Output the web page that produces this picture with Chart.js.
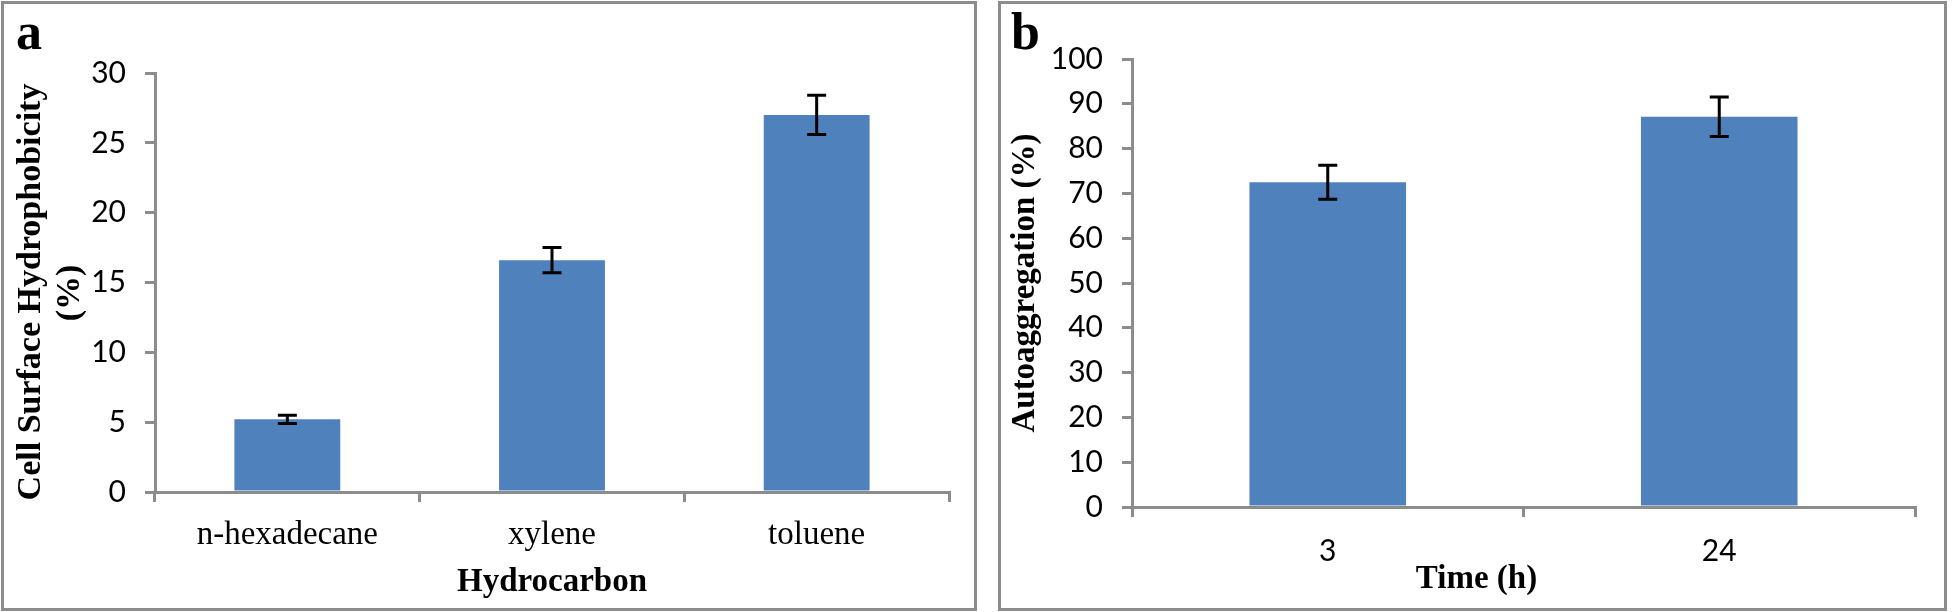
<!DOCTYPE html>
<html>
<head>
<meta charset="utf-8">
<script src="https://cdn.jsdelivr.net/npm/chart.js@4.4.1/dist/chart.umd.min.js"></script>
<style>
  html, body { margin: 0; padding: 0; background: #fff; }
  #page { position: relative; width: 1952px; height: 612px; overflow: hidden; }
  canvas { position: absolute; top: 0; }
  .frame { position: absolute; box-sizing: border-box; border: 3px solid #8c8c8c; pointer-events: none; }
</style>
</head>
<body>
<div id="page">
  <canvas id="chartA" width="977" height="612" style="left:0"></canvas>
  <canvas id="chartB" width="975" height="612" style="left:977px"></canvas>
  <div class="frame" style="left:1px;top:1px;width:976px;height:610px"></div>
  <div class="frame" style="left:998px;top:1px;width:949px;height:610px"></div>
</div>
<script>
// panel a - cell surface hydrophobicity
const hydrocarbons = ['n-hexadecane', 'xylene', 'toluene'];
const hydrophobicity = [5.2, 16.6, 27.0];
const hydrophobicityErr = [0.3, 0.9, 1.4];
const ticksA = [0, 5, 10, 15, 20, 25, 30];

// panel b - autoaggregation
const times = ['3', '24'];
const autoaggregation = [72.5, 87.1];
const autoaggregationErr = [3.8, 4.4];
const ticksB = [0, 10, 20, 30, 40, 50, 60, 70, 80, 90, 100];

const BAR_BLUE = '#4f81bd';
const AXIS_GRAY = '#8c8c8c';
const SERIF = '"Liberation Serif", "Times New Roman", serif';
const SANS = 'Lato, "Open Sans", sans-serif';

// draws error bars on top of each bar using the y scale
const errorBars = {
  id: 'errorBars',
  afterDatasetsDraw(chart, args, opts) {
    const {ctx} = chart;
    const yScale = chart.scales.y;
    const meta = chart.getDatasetMeta(0);
    const values = chart.data.datasets[0].data;
    ctx.save();
    ctx.strokeStyle = '#000';
    ctx.lineWidth = 3;
    meta.data.forEach((bar, i) => {
      const v = values[i];
      const e = opts.errors[i];
      const yTop = yScale.getPixelForValue(v + e);
      const yBot = yScale.getPixelForValue(v - e);
      ctx.beginPath();
      ctx.moveTo(bar.x, yTop); ctx.lineTo(bar.x, yBot);
      ctx.moveTo(bar.x - 9.5, yTop); ctx.lineTo(bar.x + 9.5, yTop);
      ctx.moveTo(bar.x - 9.5, yBot); ctx.lineTo(bar.x + 9.5, yBot);
      ctx.stroke();
    });
    ctx.restore();
  }
};

// panel letter and free placed labels
const extraText = {
  id: 'extraText',
  afterDraw(chart, args, opts) {
    const {ctx, chartArea} = chart;
    ctx.save();
    ctx.fillStyle = '#000';
    (opts.items || []).forEach(item => {
      ctx.save();
      ctx.font = item.font;
      ctx.textAlign = item.align || 'left';
      ctx.textBaseline = item.baseline || 'alphabetic';
      const x = item.fromCenter ? (chartArea.left + chartArea.right) / 2 + item.x : item.x;
      ctx.translate(x, item.y);
      if (item.rotate) ctx.rotate(item.rotate);
      ctx.fillText(item.text, 0, 0);
      ctx.restore();
    });
    ctx.restore();
  }
};

function makeBarChart(canvasId, cfg) {
  return new Chart(document.getElementById(canvasId), {
    type: 'bar',
    data: {
      labels: cfg.labels,
      datasets: [{
        data: cfg.values,
        backgroundColor: BAR_BLUE,
        borderWidth: 0,
        categoryPercentage: 1.0,
        barPercentage: 0.4
      }]
    },
    options: {
      responsive: false,
      animation: false,
      layout: { padding: cfg.padding },
      plugins: {
        legend: { display: false },
        tooltip: { enabled: false },
        errorBars: { errors: cfg.errors },
        extraText: { items: cfg.texts }
      },
      scales: {
        x: {
          grid: { drawOnChartArea: false, drawTicks: true, tickLength: 10, color: AXIS_GRAY, lineWidth: 3, offset: true },
          border: { display: true, color: AXIS_GRAY, width: 3 },
          ticks: { color: '#000', font: cfg.xTickFont, padding: cfg.xTickPad, maxRotation: 0 },
          title: cfg.xTitle,
          afterFit(scale) { scale.height = cfg.xHeight; }
        },
        y: {
          min: cfg.yTicks[0],
          max: cfg.yTicks[cfg.yTicks.length - 1],
          grid: { drawOnChartArea: false, drawTicks: true, tickLength: 10, color: AXIS_GRAY, lineWidth: 3 },
          border: { display: true, color: AXIS_GRAY, width: 3 },
          ticks: { color: '#000', font: { family: SANS, size: 30 }, padding: 19 },
          afterBuildTicks(scale) { scale.ticks = cfg.yTicks.map(v => ({ value: v })); },
          title: cfg.yTitle,
          afterFit(scale) { scale.width = 155; }
        }
      }
    },
    plugins: [errorBars, extraText]
  });
}

makeBarChart('chartA', {
  labels: hydrocarbons,
  values: hydrophobicity,
  errors: hydrophobicityErr,
  yTicks: ticksA,
  padding: { left: 0, top: 73, right: 28, bottom: 0 },
  xHeight: 120,
  xTickFont: { family: SERIF, size: 33 },
  xTickPad: 14,
  xTitle: { display: true, text: 'Hydrocarbon', color: '#000', font: { family: SERIF, size: 33, weight: 'bold' }, padding: { top: 0, bottom: 10 } },
  yTitle: { display: false },
  texts: [
    { text: 'a', x: 16, y: 49, font: 'bold 52px ' + SERIF },
    { text: 'Cell Surface Hydrophobicity', x: 31, y: 292, rotate: -Math.PI / 2, align: 'center', baseline: 'middle', font: 'bold 34px ' + SERIF },
    { text: '(%)', x: 70, y: 293, rotate: -Math.PI / 2, align: 'center', baseline: 'middle', font: 'bold 34px ' + SERIF }
  ]
});

makeBarChart('chartB', {
  labels: times,
  values: autoaggregation,
  errors: autoaggregationErr,
  yTicks: ticksB,
  padding: { left: 0, top: 59, right: 37, bottom: 0 },
  xHeight: 105,
  xTickFont: { family: SANS, size: 30 },
  xTickPad: 16,
  xTitle: { display: false },
  yTitle: { display: true, text: 'Autoaggregation (%)', color: '#000', font: { family: SERIF, size: 33, weight: 'bold' }, padding: { top: 29, bottom: 0 } },
  texts: [
    { text: 'b', x: 34, y: 49, font: 'bold 52px ' + SERIF },
    { text: 'Time (h)', x: -47, y: 588, fromCenter: true, align: 'center', font: 'bold 33px ' + SERIF }
  ]
});
</script>
</body>
</html>
